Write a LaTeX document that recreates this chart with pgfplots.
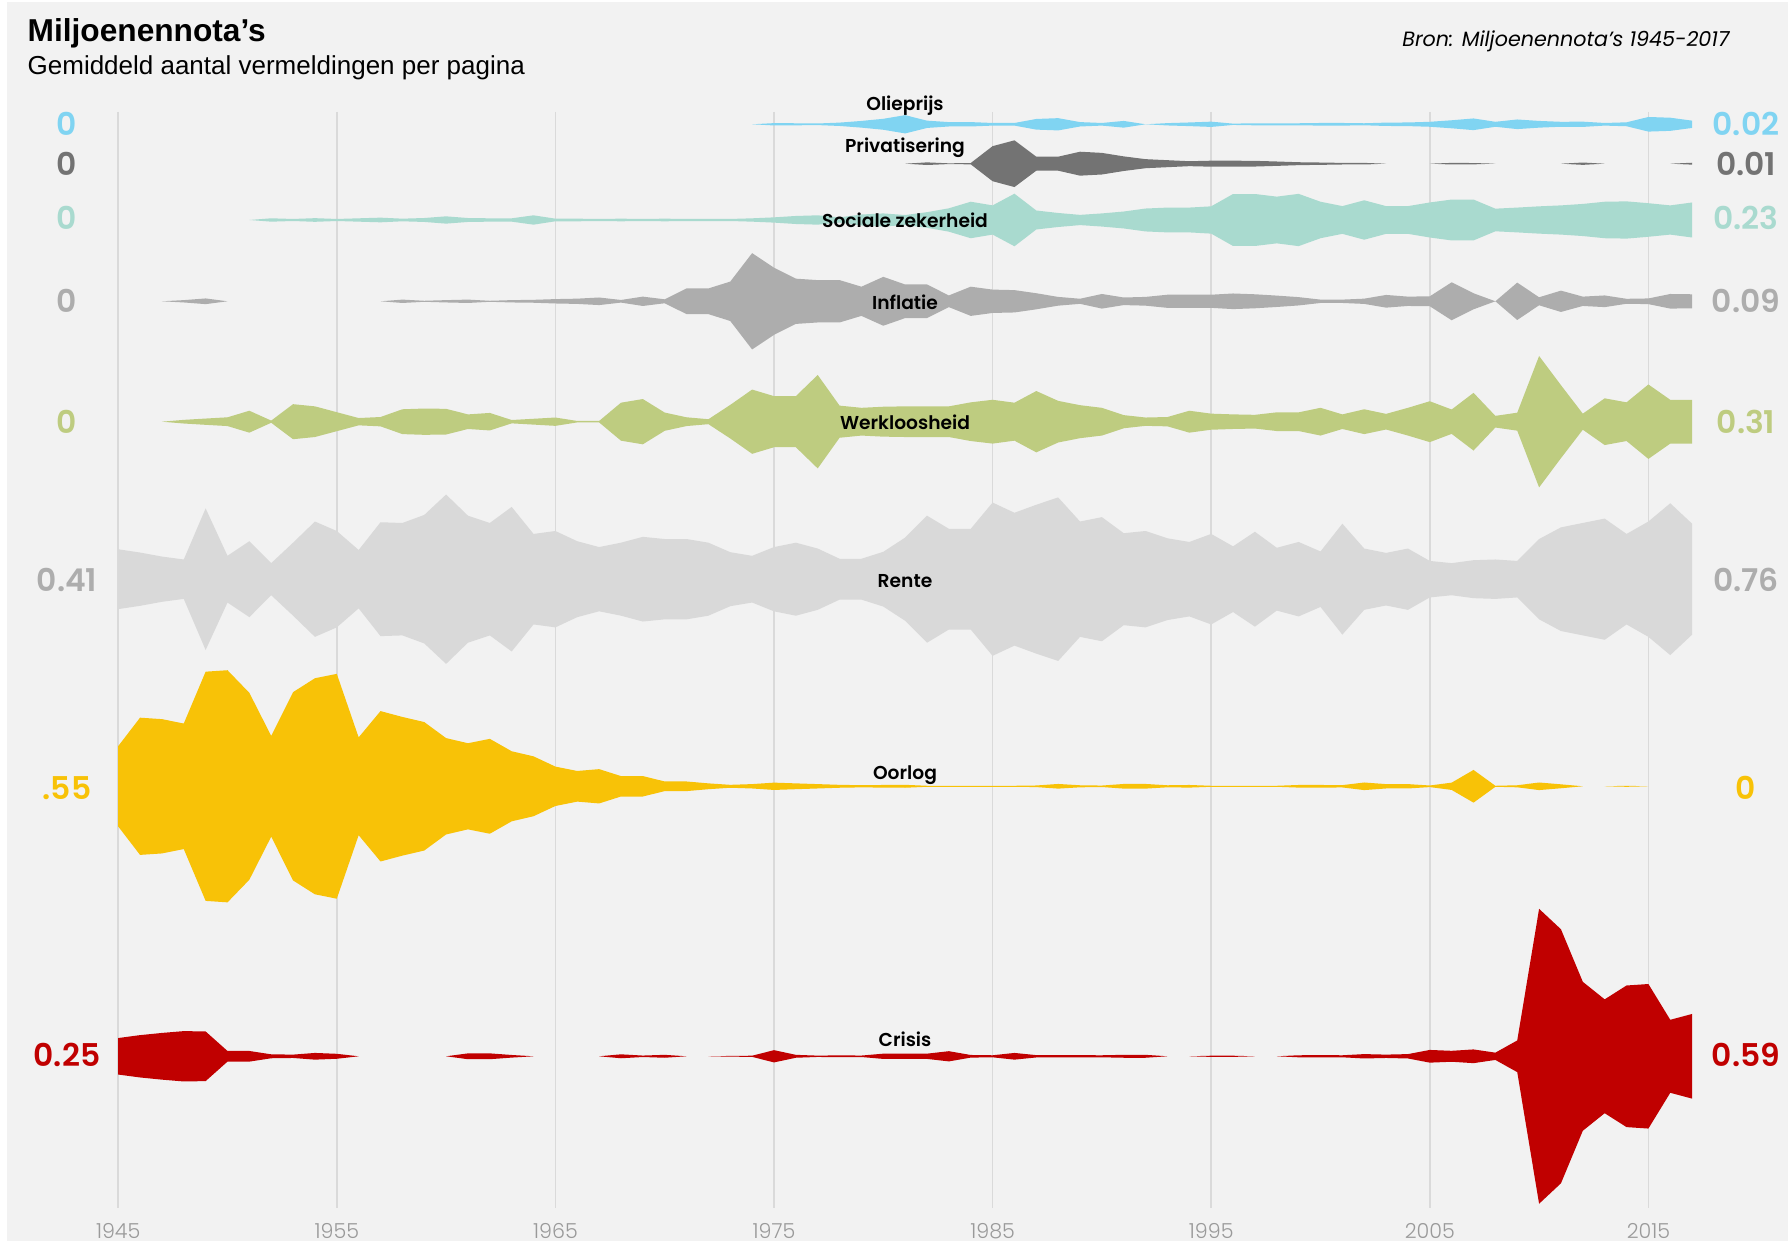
\documentclass[border=0pt]{standalone}
\usepackage{pgfplots}
\pgfplotsset{compat=1.18}
\usepgfplotslibrary{fillbetween}
\usepackage{pgfplotstable}
\usepackage{fontspec}
\setmainfont{Poppins}
\newfontfamily\arial{Liberation Sans}
\IfFontExistsTF{Poppins Light}{\newfontfamily\light{Poppins Light}}{\newfontfamily\light{Poppins}}
\IfFontExistsTF{Poppins SemiBold}{\newfontfamily\semi{Poppins SemiBold}}{\newfontfamily\semi{Poppins}[UprightFont=*-Bold]}

\definecolor{bg}{HTML}{F2F2F2}
\definecolor{gridc}{HTML}{DADADA}
\definecolor{coil}{HTML}{80D4F2}
\definecolor{cpriv}{HTML}{737373}
\definecolor{csoc}{HTML}{A9DACF}
\definecolor{cinf}{HTML}{ADADAD}
\definecolor{cwerk}{HTML}{BECC80}
\definecolor{crente}{HTML}{D9D9D9}
\definecolor{crentel}{HTML}{ADADAD}
\definecolor{coorlog}{HTML}{F8C207}
\definecolor{ccrisis}{HTML}{C00000}
\definecolor{ctick}{HTML}{9A9A9A}

\pgfplotstableread{
year oil priv soc inf werk rente oorlog crisis
1945 0 0 0 0 0 0.41 0.55 0.25
1946 0 0 0 0 0 0.365 0.94 0.29
1947 0 0 0 0 0 0.31 0.92 0.32
1948 0 0 0 0.016 0.025 0.27 0.86 0.345
1949 0 0 0 0.039 0.043 0.97 1.57 0.34
1950 0 0 0 0 0.06 0.32 1.59 0.073
1951 0 0 0 0 0.15 0.52 1.28 0.073
1952 0 0 0.023 0 0.015 0.22 0.69 0.027
1953 0 0 0.014 0 0.24 0.5 1.29 0.023
1954 0 0 0.025 0 0.21 0.79 1.48 0.046
1955 0 0 0.014 0 0.13 0.66 1.54 0.034
1956 0 0 0.023 0 0.05 0.4 0.67 0
1957 0 0 0.032 0 0.064 0.78 1.03 0
1958 0 0 0.018 0.023 0.17 0.77 0.95 0
1959 0 0 0.027 0.007 0.18 0.88 0.88 0
1960 0 0 0.05 0.016 0.176 1.16 0.66 0
1961 0 0 0.027 0.023 0.1 0.87 0.59 0.04
1962 0 0 0.023 0.007 0.12 0.77 0.65 0.04
1963 0 0 0.023 0.016 0.023 0.99 0.48 0.018
1964 0 0 0.064 0.02 0.04 0.62 0.41 0
1965 0 0 0.018 0.03 0.057 0.66 0.27 0
1966 0 0 0.018 0.036 0.01 0.52 0.21 0
1967 0 0 0.014 0.052 0.01 0.44 0.235 0
1968 0 0 0.018 0.018 0.26 0.5 0.14 0.027
1969 0 0 0.014 0.064 0.31 0.58 0.14 0.01
1970 0 0 0.018 0.027 0.125 0.55 0.066 0.02
1971 0 0 0.014 0.176 0.06 0.55 0.066 0
1972 0 0 0.014 0.176 0.034 0.5 0.04 0
1973 0 0 0.014 0.27 0.23 0.37 0.02 0.005
1974 0 0 0.023 0.66 0.44 0.32 0.03 0.008
1975 0.016 0 0.036 0.46 0.35 0.44 0.05 0.084
1976 0.014 0 0.055 0.31 0.35 0.5 0.04 0.02
1977 0.011 0 0.064 0.29 0.64 0.42 0.03 0.009
1978 0.023 0 0.036 0.29 0.22 0.28 0.02 0.013
1979 0.046 0 0.075 0.2 0.19 0.28 0.015 0.01
1980 0.075 0 0.09 0.335 0.205 0.375 0.018 0.036
1981 0.125 0 0.068 0.23 0.21 0.57 0.02 0.036
1982 0.05 0.018 0.107 0.23 0.21 0.87 0.007 0.036
1983 0.03 0.005 0.16 0.08 0.21 0.69 0.007 0.07
1984 0.03 0.009 0.25 0.2 0.265 0.69 0.007 0.018
1985 0.018 0.24 0.2 0.16 0.3 1.05 0.007 0.014
1986 0.018 0.32 0.36 0.153 0.26 0.91 0.007 0.046
1987 0.073 0.096 0.13 0.11 0.42 1.02 0.011 0.016
1988 0.084 0.096 0.096 0.06 0.285 1.12 0.032 0.016
1989 0.03 0.164 0.07 0.035 0.226 0.79 0.014 0.015
1990 0.018 0.148 0.09 0.1 0.19 0.85 0.01 0.014
1991 0.046 0.1 0.116 0.052 0.09 0.63 0.032 0.02
1992 0 0.062 0.157 0.06 0.057 0.66 0.032 0.02
1993 0.016 0.048 0.17 0.09 0.064 0.56 0.014 0
1994 0.025 0.034 0.17 0.09 0.15 0.51 0.018 0
1995 0.036 0.041 0.187 0.09 0.11 0.62 0.007 0.008
1996 0.009 0.041 0.356 0.107 0.1 0.45 0.007 0.008
1997 0.014 0.039 0.356 0.096 0.094 0.65 0.007 0
1998 0.014 0.03 0.32 0.078 0.128 0.43 0.007 0
1999 0.014 0.02 0.358 0.057 0.128 0.51 0.018 0.014
2000 0.018 0.016 0.25 0.023 0.19 0.38 0.018 0.016
2001 0.018 0.011 0.19 0.023 0.1 0.76 0.016 0.014
2002 0.014 0.011 0.27 0.036 0.17 0.42 0.052 0.03
2003 0.023 0 0.19 0.087 0.107 0.36 0.03 0.023
2004 0.025 0 0.19 0.064 0.19 0.42 0.03 0.03
2005 0.034 0 0.24 0.068 0.28 0.25 0.011 0.087
2006 0.055 0.011 0.28 0.26 0.167 0.22 0.05 0.075
2007 0.08 0.009 0.28 0.11 0.395 0.26 0.224 0.094
2008 0.034 0 0.155 0 0.08 0.27 0.007 0.05
2009 0.066 0 0.17 0.256 0.123 0.25 0.014 0.217
2010 0.046 0 0.187 0.055 0.9 0.55 0.052 2.02
2011 0.034 0 0.2 0.146 0.5 0.71 0.027 1.74
2012 0.036 0.016 0.22 0.064 0.11 0.77 0 1.02
2013 0.018 0 0.25 0.08 0.32 0.83 0 0.78
2014 0.027 0 0.255 0.034 0.265 0.62 0.007 0.97
2015 0.1 0 0.23 0.039 0.51 0.79 0 0.99
2016 0.09 0 0.2 0.1 0.3 1.04 0 0.5
2017 0.05 0.013 0.24 0.096 0.3 0.76 0 0.58
}\data

% #1 column, #2 centre (px from top), #3 colour, #4 year range, #5 unique id
\newcommand{\band}[5]{%
  \addplot[draw=none, forget plot, restrict x to domain=#4, name path=#1#5top] table[x=year, y expr={-#2+73*\thisrow{#1}}] {\data};
  \addplot[draw=none, forget plot, restrict x to domain=#4, name path=#1#5bot] table[x=year, y expr={-#2-73*\thisrow{#1}}] {\data};
  \addplot[fill=#3, draw=none, forget plot] fill between[of=#1#5top and #1#5bot, on layer=main];
}

\begin{document}
\begin{tikzpicture}
\fill[white] (0,0) rectangle (536.4pt,372.3pt);
\begin{scope}[x=0.3pt,y=-0.3pt,shift={(0pt,372.3pt)}]
  \fill[bg] (7,2) rectangle (1788,1241);
  \foreach \gx in {118.2,336.8,555.4,774.0,992.6,1211.2,1429.8,1648.4}
    \draw[gridc, line width=0.45pt] (\gx,112) -- (\gx,1208);
\end{scope}

\begin{axis}[at={(0,0)}, anchor=south west, scale only axis,
  width=536.4pt, height=372.3pt,
  xmin=1939.593, xmax=2021.386, ymin=-1241, ymax=0,
  hide axis, clip=false]
\band{oil}{124.3}{coil}{1974:2017}{a}
\band{priv}{163.7}{cpriv}{1981:2003}{a}
\band{priv}{163.7}{cpriv}{2005:2008}{b}
\band{priv}{163.7}{cpriv}{2011:2013}{c}
\band{priv}{163.7}{cpriv}{2016:2017}{d}
\band{soc}{220}{csoc}{1951:2017}{a}
\band{inf}{301.3}{cinf}{1947:1950}{a}
\band{inf}{301.3}{cinf}{1957:2017}{b}
\band{werk}{421.7}{cwerk}{1947:2017}{a}
\band{rente}{579.2}{crente}{1945:2017}{a}
\band{oorlog}{786.3}{coorlog}{1945:2012}{a}
\band{oorlog}{786.3}{coorlog}{2013:2015}{b}
\band{crisis}{1056.3}{ccrisis}{1945:1956}{a}
\band{crisis}{1056.3}{ccrisis}{1960:1964}{b}
\band{crisis}{1056.3}{ccrisis}{1967:1971}{c}
\band{crisis}{1056.3}{ccrisis}{1972:1993}{d}
\band{crisis}{1056.3}{ccrisis}{1994:1997}{e}
\band{crisis}{1056.3}{ccrisis}{1998:2017}{f}
\end{axis}

\begin{scope}[x=0.3pt,y=-0.3pt,shift={(0pt,372.3pt)}]
  % titles
  \node[anchor=base west, inner sep=0pt, font=\arial\bfseries\fontsize{9.5}{11}\selectfont] at (27,42) {Miljoenennota’s};
  \node[anchor=base west, inner sep=0pt, font=\arial\fontsize{7.8}{9}\selectfont] at (27,75) {Gemiddeld aantal vermeldingen per pagina};
  \node[anchor=base east, inner sep=0pt, font=\itshape\fontsize{6.2}{8}\selectfont] at (1730,47) {Bron: Miljoenennota’s 1945-2017};
  % tick labels
  \foreach \gx/\yr in {118.2/1945,336.8/1955,555.4/1965,774.0/1975,992.6/1985,1211.2/1995,1429.8/2005,1648.4/2015}
    \node[inner sep=0pt, text=ctick, font=\light\fontsize{6.2}{7}\selectfont] at (\gx,1231) {\yr};
  % series labels
  \tikzset{slab/.style={anchor=base, inner sep=0pt, font=\semi\fontsize{5.6}{7}\selectfont}}
  \node[slab] at (905,111) {Olieprijs};
  \node[slab] at (905,153) {Privatisering};
  \node[slab] at (905,228) {Sociale zekerheid};
  \node[slab] at (905,310) {Inflatie};
  \node[slab] at (905,430) {Werkloosheid};
  \node[slab] at (905,588) {Rente};
  \node[slab] at (905,780) {Oorlog};
  \node[slab] at (905,1046) {Crisis};
  % value labels
  \tikzset{vlab/.style={inner sep=0pt, font=\semi\fontsize{9.4}{11}\selectfont}}
  \node[vlab, text=coil] at (67,124.3) {0};
  \node[vlab, text=cpriv] at (67,163.7) {0};
  \node[vlab, text=csoc] at (67,218) {0};
  \node[vlab, text=cinf] at (67,301.3) {0};
  \node[vlab, text=cwerk] at (67,421.7) {0};
  \node[vlab, text=crentel] at (67,580) {0.41};
  \node[vlab, text=coorlog] at (67,788) {.55};
  \node[vlab, text=ccrisis] at (67,1055) {0.25};
  \node[vlab, text=coil] at (1746,124.3) {0.02};
  \node[vlab, text=cpriv] at (1746,163.7) {0.01};
  \node[vlab, text=csoc] at (1746,218) {0.23};
  \node[vlab, text=cinf] at (1746,301.3) {0.09};
  \node[vlab, text=cwerk] at (1746,421.7) {0.31};
  \node[vlab, text=crentel] at (1746,580) {0.76};
  \node[vlab, text=coorlog] at (1746,788) {0};
  \node[vlab, text=ccrisis] at (1746,1055) {0.59};
\end{scope}
\pgfresetboundingbox
\path[use as bounding box] (0,0) rectangle (536.4pt,372.3pt);
\end{tikzpicture}
\end{document}
